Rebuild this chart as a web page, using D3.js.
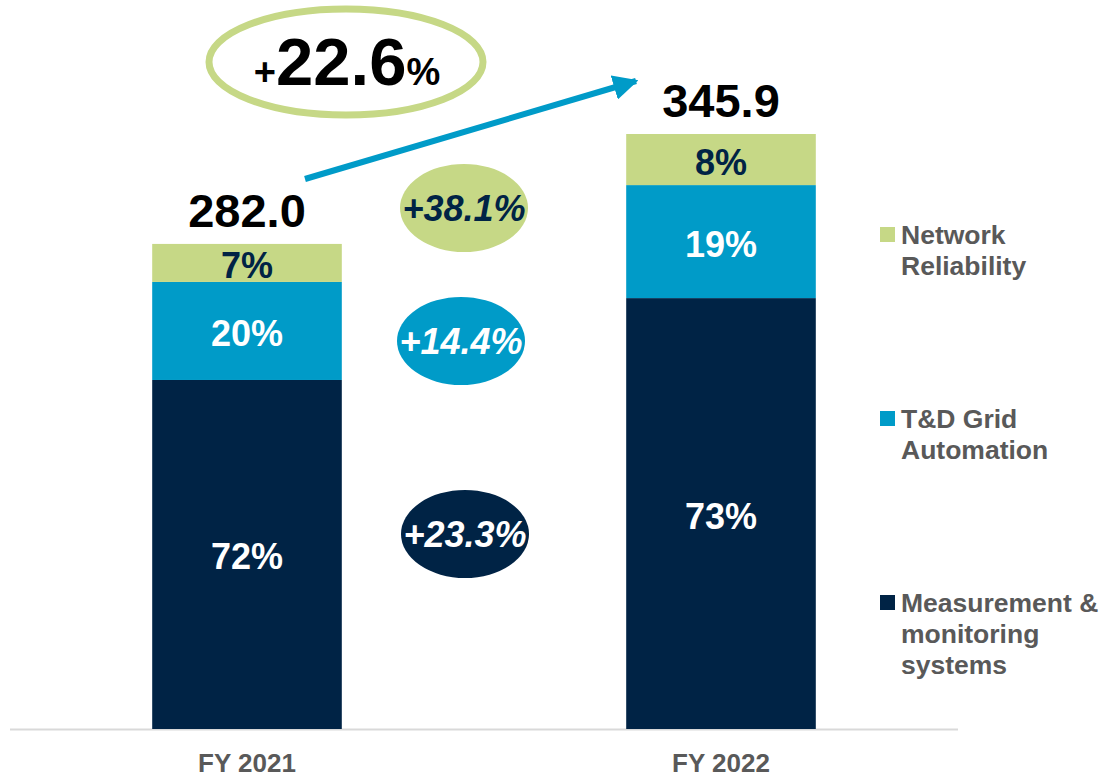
<!DOCTYPE html>
<html>
<head>
    <meta charset="UTF-8">
    <script src="https://cdnjs.cloudflare.com/ajax/libs/d3/7.8.5/d3.min.js"></script>
    <style>
        body { margin: 0; background: #fff; }
        svg { font-family: "Liberation Sans", Arial, sans-serif; font-weight: bold; }
    </style>
</head>
<body>
    <svg width="1111" height="777"></svg>
    <script>
        // data
        var years = ["FY 2021", "FY 2022"];
        var segments = ["Measurement & monitoring systems", "T&D Grid Automation", "Network Reliability"];
        var measurement = [202.9, 250.5];
        var gridAutomation = [57.0, 65.7];
        var networkReliability = [22.1, 29.7];
        var shareLabels = [["72%", "20%", "7%"], ["73%", "19%", "8%"]];
        var growthLabels = ["+23.3%", "+14.4%", "+38.1%"];
        var totalGrowth = "22.6";
        var legendLines = [["Measurement &", "monitoring", "systems"], ["T&D Grid", "Automation"], ["Network", "Reliability"]];

        var colors = ["#002345", "#009BC8", "#C6D886"];
        var labelColors = ["#fff", "#fff", "#002345"];

        var svg = d3.select("svg");

        var rows = years.map((y, i) => ({
            year: y,
            idx: i,
            m: measurement[i],
            g: gridAutomation[i],
            n: networkReliability[i]
        }));
        rows.forEach(r => r.total = r.m + r.g + r.n);

        var stack = d3.stack().keys(["m", "g", "n"]);
        var series = stack(rows);

        var x = d3.scaleBand()
            .domain(years)
            .range([10, 958])
            .paddingInner(0.6)
            .paddingOuter(0.3);

        var y = d3.scaleLinear()
            .domain([0, d3.max(rows, r => r.total)])
            .range([729, 134]);

        // baseline
        svg.append("line")
            .attr("x1", 10).attr("x2", 958)
            .attr("y1", 729.5).attr("y2", 729.5)
            .style("stroke", "#d9d9d9")
            .style("stroke-width", 2);

        var layer = svg.selectAll("g.layer")
            .data(series)
            .enter()
            .append("g")
            .attr("class", "layer");

        layer.selectAll("rect")
            .data((s, i) => s.map(d => ({ d: d, i: i })))
            .enter()
            .append("rect")
            .attr("x", o => x(o.d.data.year))
            .attr("width", x.bandwidth())
            .attr("y", o => y(o.d[1]))
            .attr("height", o => y(o.d[0]) - y(o.d[1]))
            .style("fill", o => colors[o.i]);

        layer.selectAll("text")
            .data((s, i) => s.map(d => ({ d: d, i: i })))
            .enter()
            .append("text")
            .attr("x", o => x(o.d.data.year) + x.bandwidth() / 2)
            .attr("y", o => (y(o.d[0]) + y(o.d[1])) / 2 + 2)
            .attr("dy", "0.36em")
            .style("text-anchor", "middle")
            .style("font-size", "36px")
            .style("fill", o => labelColors[o.i])
            .text(o => shareLabels[o.d.data.idx][o.i]);

        // totals
        svg.selectAll("text.total")
            .data(rows)
            .enter()
            .append("text")
            .attr("class", "total")
            .attr("x", r => x(r.year) + x.bandwidth() / 2)
            .attr("y", r => y(r.total) - 17)
            .style("text-anchor", "middle")
            .style("font-size", "47px")
            .style("fill", "#000")
            .text(r => r.total.toFixed(1));

        // category labels
        svg.selectAll("text.cat")
            .data(years)
            .enter()
            .append("text")
            .attr("class", "cat")
            .attr("x", d => x(d) + x.bandwidth() / 2)
            .attr("y", 772)
            .style("text-anchor", "middle")
            .style("font-size", "26px")
            .style("fill", "#595959")
            .text(d => d);

        // growth bubbles per segment
        var bubbleY = [534, 341, 208];
        var bubbleX = [465, 461, 464];
        growthLabels.forEach((g, i) => {
            svg.append("ellipse")
                .attr("cx", bubbleX[i]).attr("cy", bubbleY[i])
                .attr("rx", 64).attr("ry", 44)
                .style("fill", colors[i]);
            svg.append("text")
                .attr("x", bubbleX[i]).attr("y", bubbleY[i])
                .attr("dy", "0.36em")
                .style("text-anchor", "middle")
                .style("font-size", "36px")
                .style("font-style", "italic")
                .style("fill", labelColors[i])
                .text(g);
        });

        // overall growth
        svg.append("ellipse")
            .attr("cx", 346).attr("cy", 62)
            .attr("rx", 137).attr("ry", 53)
            .style("fill", "none")
            .style("stroke", "#C6D886")
            .style("stroke-width", 7);

        var big = svg.append("text")
            .attr("x", 347).attr("y", 85)
            .style("text-anchor", "middle")
            .style("fill", "#000");
        big.append("tspan").style("font-size", "38px").text("+");
        big.append("tspan").style("font-size", "67px").text(totalGrowth);
        big.append("tspan").style("font-size", "38px").text("%");

        // arrow
        svg.append("defs").append("marker")
            .attr("id", "head")
            .attr("viewBox", "0 0 10 10")
            .attr("refX", 9).attr("refY", 5)
            .attr("markerWidth", 4.2).attr("markerHeight", 4.2)
            .attr("markerUnits", "strokeWidth")
            .attr("orient", "auto")
            .append("path")
            .attr("d", "M0,0L10,5L0,10z")
            .style("fill", "#009BC8");

        svg.append("line")
            .attr("x1", 305).attr("y1", 179)
            .attr("x2", 636).attr("y2", 81)
            .style("stroke", "#009BC8")
            .style("stroke-width", 6)
            .attr("marker-end", "url(#head)");

        // legend
        var legendTop = [595, 411, 227];
        segments.forEach((s, i) => {
            svg.append("rect")
                .attr("x", 880).attr("y", legendTop[i])
                .attr("width", 15).attr("height", 15)
                .style("fill", colors[i]);
            var t = svg.append("text")
                .attr("x", 901).attr("y", legendTop[i] + 17)
                .style("font-size", "26.5px")
                .style("fill", "#595959");
            legendLines[i].forEach((l, k) => {
                t.append("tspan")
                    .attr("x", 901)
                    .attr("dy", k == 0 ? 0 : 31)
                    .text(l);
            });
        });
    </script>
</body>
</html>
